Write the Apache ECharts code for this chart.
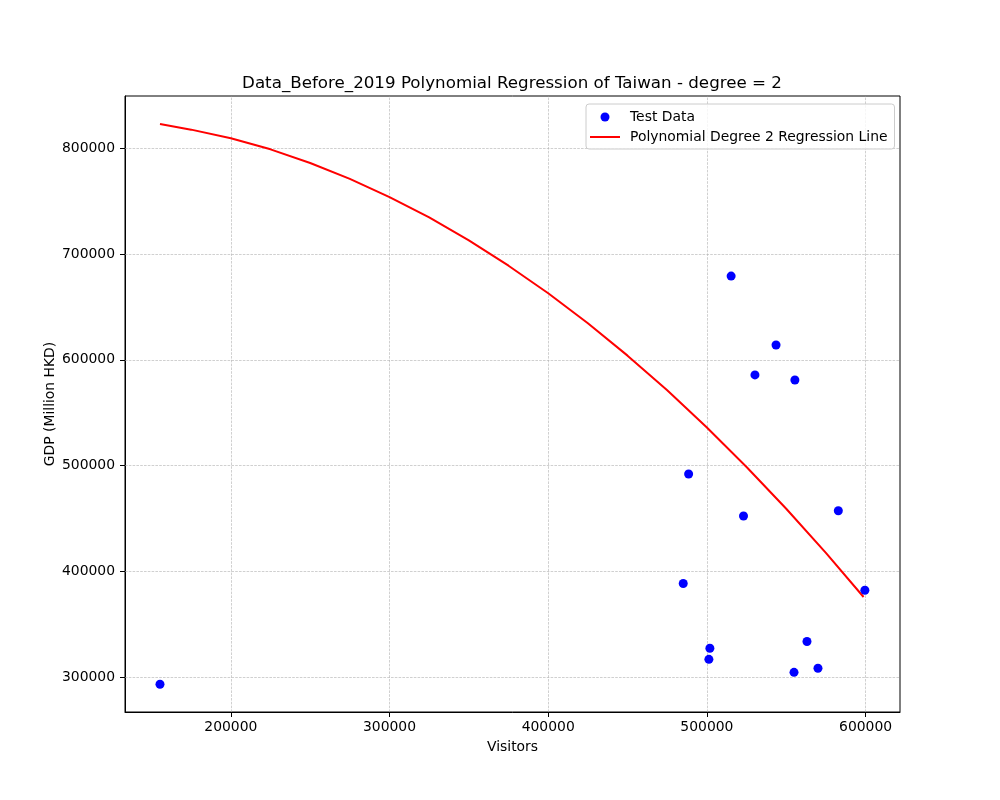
<!DOCTYPE html>
<html>
<head>
<meta charset="utf-8">
<title>Taiwan polynomial regression</title>
<script src="https://cdn.jsdelivr.net/npm/echarts@6/dist/echarts.min.js"></script>
<style>
	html, body { margin: 0; padding: 0; background: #fff; }
	#chart { width: 1000px; height: 800px; }
</style>
</head>
<body>
<div id="chart"></div>
<script>
// test data (visitors / gdp)
var testVisitors = [155350, 485100, 488490, 501260, 501890, 515280, 523080, 530300, 543580, 554910, 555470, 563080, 570000, 582830, 599560];
var testGdp = [293400, 388600, 492100, 317000, 327400, 679200, 452400, 585800, 614100, 304700, 581000, 333800, 308500, 457400, 382300];

// regression line
var lineVisitors = [155350, 175000, 200000, 225000, 250000, 275000, 300000, 325000, 350000, 375000, 400000,
	425000, 450000, 475000, 500000, 525000, 550000, 575000, 598740];
var lineGdp = [823000, 817600, 809400, 799000, 786100, 771100, 753900, 734600, 712900, 689000, 663000,
	634600, 604000, 571200, 536100, 498800, 459300, 417600, 375900];

// tick labels
var xTicks = [200000, 300000, 400000, 500000, 600000];
var yTicks = [300000, 400000, 500000, 600000, 700000, 800000];

var font = 'DejaVu Sans';

var scatterData = [];
for (var i = 0; i < testVisitors.length; i++) {
	scatterData.push([testVisitors[i], testGdp[i]]);
}
var lineData = [];
for (var j = 0; j < lineVisitors.length; j++) {
	lineData.push([lineVisitors[j], lineGdp[j]]);
}

//网格线
var gridLines = [];
xTicks.forEach(function (v) { gridLines.push({ xAxis: v }); });
yTicks.forEach(function (v) { gridLines.push({ yAxis: v }); });

var chart = echarts.init(document.getElementById('chart'));

var option = {
	animation: false,
	backgroundColor: '#fff',
	title: {
		text: 'Data_Before_2019 Polynomial Regression of Taiwan - degree = 2',
		left: 512,
		top: 75,
		padding: 0,
		textAlign: 'center',
		textStyle: {
			fontFamily: font,
			fontSize: 16.7,
			fontWeight: 'normal',
			color: '#000'
		}
	},
	grid: {
		left: 125,
		right: 100,
		top: 96,
		bottom: 88,
		show: true,
		borderColor: '#000',
		borderWidth: 1,
		backgroundColor: 'transparent'
	},
	legend: {
		orient: 'vertical',
		left: 586,
		top: 104,
		padding: [6, 7, 5, 4],
		itemWidth: 30,
		itemHeight: 9,
		itemGap: 6,
		borderColor: '#ccc',
		borderWidth: 1,
		borderRadius: 3,
		backgroundColor: 'rgba(255,255,255,0.8)',
		textStyle: {
			fontFamily: font,
			fontSize: 13.9,
			color: '#000',
			padding: [0, 0, 0, 5]
		},
		data: [
			{ name: 'Test Data', icon: 'circle' },
			{ name: 'Polynomial Degree 2 Regression Line', icon: 'path://M0,0L30,0L30,2L0,2Z' }
		]
	},
	xAxis: {
		type: 'value',
		min: 133300,
		max: 621700,
		name: 'Visitors',
		nameLocation: 'middle',
		nameGap: 28,
		nameTextStyle: { fontFamily: font, fontSize: 13.9, color: '#000' },
		axisLine: { show: true, lineStyle: { color: '#000', width: 1 } },
		axisTick: { show: true, length: 5, customValues: xTicks, lineStyle: { color: '#000' } },
		axisLabel: {
			customValues: xTicks,
			margin: 8,
			fontFamily: font,
			fontSize: 13.9,
			color: '#000',
			formatter: function (v) { return String(v); }
		},
		splitLine: { show: false }
	},
	yAxis: {
		type: 'value',
		min: 267200,
		max: 849400,
		name: 'GDP (Million HKD)',
		nameLocation: 'middle',
		nameGap: 68,
		nameMoveOverlap: false,
		nameTextStyle: { fontFamily: font, fontSize: 13.9, color: '#000' },
		axisLine: { show: true, lineStyle: { color: '#000', width: 1 } },
		axisTick: { show: true, length: 5, customValues: yTicks, lineStyle: { color: '#000' } },
		axisLabel: {
			customValues: yTicks,
			margin: 10,
			fontFamily: font,
			fontSize: 13.9,
			color: '#000',
			formatter: function (v) { return String(v); }
		},
		splitLine: { show: false }
	},
	series: [
		{
			name: 'grid',
			type: 'line',
			data: [],
			silent: true,
			z: 1,
			markLine: {
				z: 1,
				silent: true,
				symbol: ['none', 'none'],
				animation: false,
				label: { show: false },
				emphasis: { disabled: true },
				lineStyle: { color: '#b0b0b0', width: 0.6, type: [2.6, 1.2] },
				data: gridLines
			}
		},
		{
			name: 'Test Data',
			type: 'scatter',
			z: 10,
			symbol: 'circle',
			symbolSize: 9,
			itemStyle: { color: '#0000ff', opacity: 1 },
			data: scatterData
		},
		{
			name: 'Polynomial Degree 2 Regression Line',
			type: 'line',
			z: 9,
			smooth: false,
			showSymbol: false,
			symbol: 'none',
			itemStyle: { color: '#ff0000' },
			lineStyle: { color: '#ff0000', width: 2 },
			data: lineData
		}
	]
};

chart.setOption(option);
</script>
</body>
</html>
